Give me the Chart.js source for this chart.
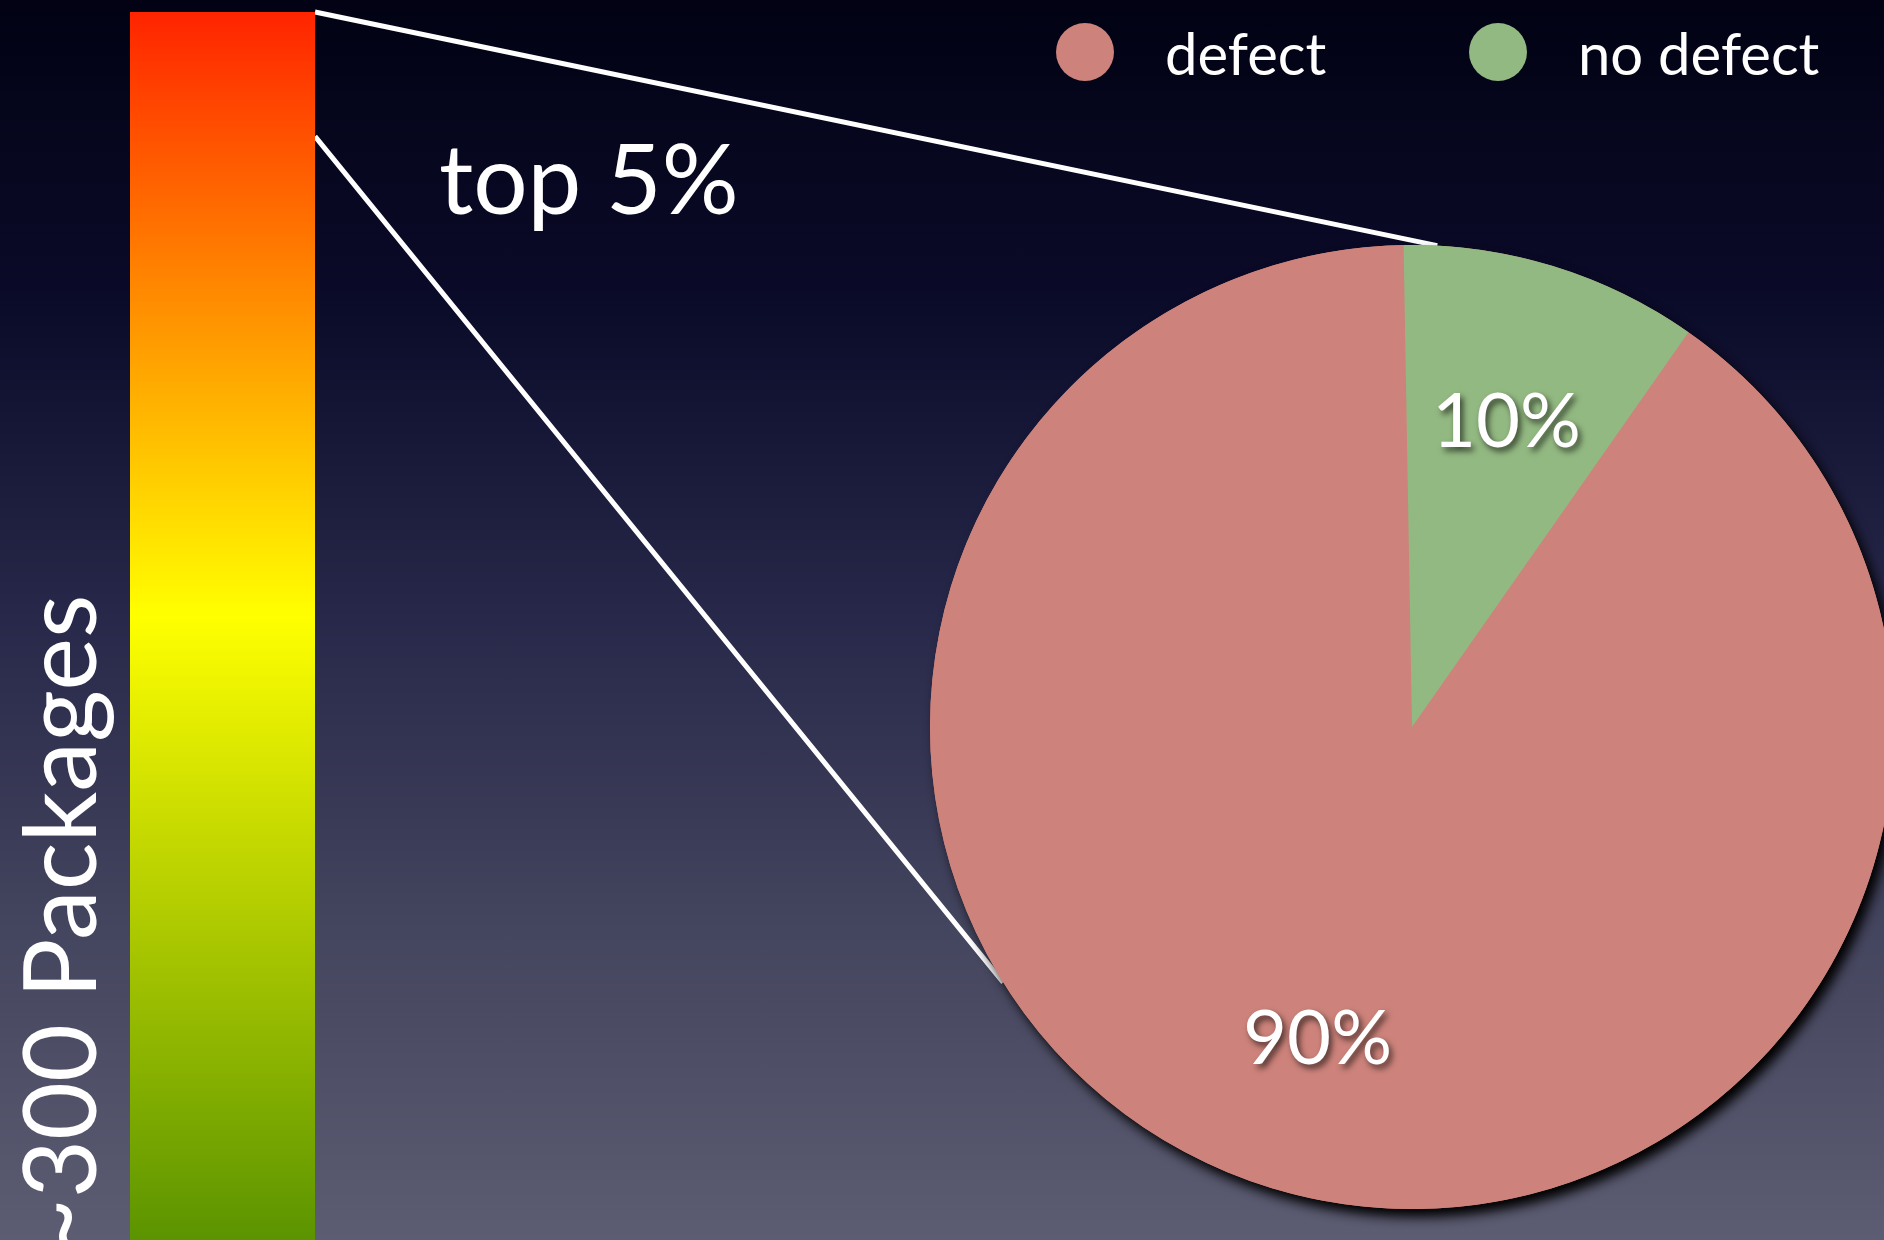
<!DOCTYPE html>
<html>
<head>
<meta charset="utf-8">
<script src="https://cdn.jsdelivr.net/npm/chart.js@4.4.0/dist/chart.umd.min.js"></script>
<style>
html, body { margin: 0; padding: 0; width: 1884px; height: 1240px; overflow: hidden; }
body {
    position: relative;
    background: linear-gradient(to bottom, #020214 0%, #0b0b2a 25%, #28284a 50%, #44455e 75%, #5c5c72 100%);
}
#pieChart, #barChart { position: absolute; left: 0; top: 0; }
</style>
</head>
<body>
<canvas id="pieChart" width="1884" height="1240"></canvas>
<canvas id="barChart" width="315" height="1256"></canvas>
<script>
// data
var categories = ["defect", "no defect"];
var shares = [90, 10];
var sliceColors = ["#cd837b", "#93b982"];
var packageCount = [300];
var barLabel = "~300 Packages";
var topCut = 270;          // where the lower guide line leaves the bar
var topLabel = "top 5%";

var FONT = "Lato, 'Open Sans', sans-serif";

// left bar: all packages, coloured red (top) to green (bottom)
var barChart = new Chart(document.getElementById("barChart"), {
    type: 'bar',
    data: {
        labels: [""],
        datasets: [{
            data: packageCount,
            backgroundColor: function (c) {
                var a = c.chart.chartArea;
                if (!a) return '#ffff00';
                var g = c.chart.ctx.createLinearGradient(0, a.top, 0, a.bottom);
                g.addColorStop(0, '#ff2400');
                g.addColorStop(0.485, '#ffff00');
                g.addColorStop(1, '#579100');
                return g;
            },
            borderWidth: 0,
            barPercentage: 1,
            categoryPercentage: 1
        }]
    },
    options: {
        responsive: false,
        animation: false,
        layout: { padding: { top: 12 } },
        plugins: { legend: { display: false }, tooltip: { enabled: false } },
        scales: {
            x: { display: false },
            y: {
                min: 0,
                max: 300,
                afterFit: function (s) { s.width = 130; },
                ticks: { display: false },
                grid: { display: false },
                border: { display: false },
                title: {
                    display: true,
                    text: barLabel,
                    align: 'start',
                    color: '#ffffff',
                    font: { family: FONT, size: 100 },
                    padding: { top: 4, bottom: 0 }
                }
            }
        }
    }
});

// guide lines from the bar to the pie + drop shadow under the pie
var guidePlugin = {
    id: 'guides',
    beforeDatasetsDraw: function (chart) {
        var ctx = chart.ctx;
        var arc = chart.getDatasetMeta(0).data[0];
        var cx = arc.x, cy = arc.y, r = arc.outerRadius;
        var bar = barChart.getDatasetMeta(0).data[0];
        var bx = bar.x + bar.width / 2;
        var yTop = barChart.scales.y.getPixelForValue(packageCount[0]);
        var yCut = barChart.scales.y.getPixelForValue(topCut);

        var a1 = -87 * Math.PI / 180, a2 = 148 * Math.PI / 180;
        ctx.save();
        ctx.strokeStyle = '#ffffff';
        ctx.lineWidth = 5;
        ctx.beginPath();
        ctx.moveTo(bx, yTop);
        ctx.lineTo(cx + r * Math.cos(a1), cy + r * Math.sin(a1));
        ctx.moveTo(bx, yCut);
        ctx.lineTo(cx + r * Math.cos(a2), cy + r * Math.sin(a2));
        ctx.stroke();
        ctx.restore();

        ctx.save();
        ctx.shadowColor = 'rgba(0,0,0,1)';
        ctx.shadowBlur = 12;
        ctx.shadowOffsetX = 6;
        ctx.shadowOffsetY = 8;
        ctx.fillStyle = sliceColors[0];
        ctx.beginPath();
        ctx.arc(cx, cy, r, 0, 2 * Math.PI);
        ctx.fill();
        ctx.restore();
    },
    afterDatasetsDraw: function (chart) {
        var ctx = chart.ctx;
        var meta = chart.getDatasetMeta(0);
        var total = shares.reduce(function (s, v) { return s + v; }, 0);

        // percentage labels
        ctx.save();
        ctx.font = '76px ' + FONT;
        ctx.fillStyle = '#ffffff';
        ctx.textAlign = 'center';
        ctx.textBaseline = 'middle';
        ctx.shadowColor = 'rgba(0,0,0,0.65)';
        ctx.shadowBlur = 6;
        ctx.shadowOffsetX = 3;
        ctx.shadowOffsetY = 4;
        meta.data.forEach(function (el, i) {
            var mid = (el.startAngle + el.endAngle) / 2;
            var d = el.outerRadius * 0.67;
            ctx.fillText(Math.round(shares[i] / total * 100) + '%',
                el.x + d * Math.cos(mid), el.y + d * Math.sin(mid) + 4);
        });
        ctx.restore();

        // legend
        var legendX = [1056, 1469];
        ctx.save();
        ctx.font = '58px ' + FONT;
        ctx.textBaseline = 'alphabetic';
        categories.forEach(function (lab, i) {
            ctx.fillStyle = sliceColors[i];
            ctx.beginPath();
            ctx.arc(legendX[i] + 29, 52, 29, 0, 2 * Math.PI);
            ctx.fill();
            ctx.fillStyle = '#ffffff';
            ctx.fillText(lab, legendX[i] + 109, 75);
        });

        // bracket caption
        ctx.font = '96px ' + FONT;
        ctx.fillText(topLabel, 439, 214);
        ctx.restore();
    }
};

var pieChart = new Chart(document.getElementById("pieChart"), {
    type: 'pie',
    data: {
        labels: categories,
        datasets: [{
            data: shares,
            backgroundColor: sliceColors,
            borderWidth: 0,
            rotation: 35,
            radius: 482,
            clip: false
        }]
    },
    options: {
        responsive: false,
        animation: false,
        layout: { padding: { left: 940, top: 214, right: 0, bottom: 0 } },
        plugins: { legend: { display: false }, tooltip: { enabled: false } }
    },
    plugins: [guidePlugin]
});
</script>
</body>
</html>
